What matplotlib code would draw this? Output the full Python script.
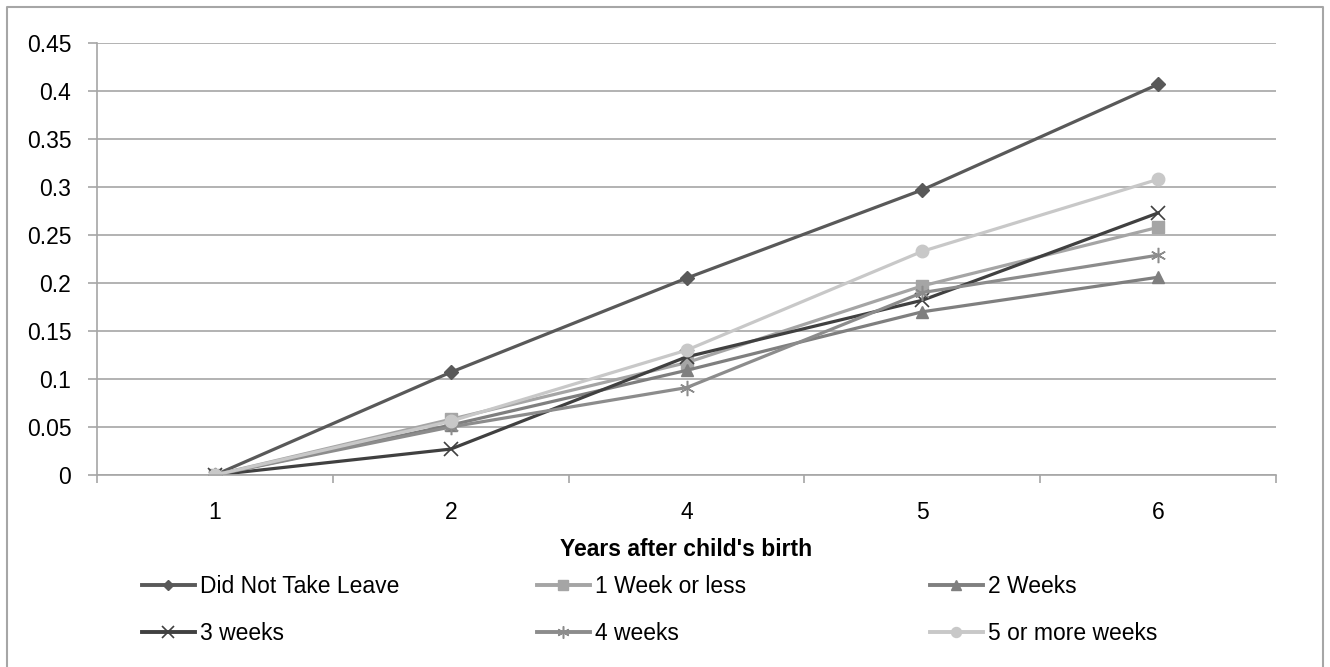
import matplotlib.pyplot as plt
from matplotlib.lines import Line2D

# data
years = ["1", "2", "4", "5", "6"]
did_not_take = [0, 0.107, 0.205, 0.297, 0.407]
week_or_less = [0, 0.058, 0.117, 0.197, 0.258]
two_weeks = [0, 0.052, 0.109, 0.170, 0.206]
three_weeks = [0, 0.027, 0.123, 0.182, 0.273]
four_weeks = [0, 0.050, 0.091, 0.190, 0.229]
five_plus = [0, 0.056, 0.130, 0.233, 0.308]
y_ticks = [0, 0.05, 0.1, 0.15, 0.2, 0.25, 0.3, 0.35, 0.4, 0.45]
y_labels = ["0", "0.05", "0.1", "0.15", "0.2", "0.25", "0.3", "0.35", "0.4", "0.45"]

plt.rcParams['font.family'] = ['Liberation Sans', 'DejaVu Sans']
FS = 16.5

W, H = 1330, 667
fig = plt.figure(figsize=(W / 100, H / 100), dpi=100)
ax = fig.add_axes([97 / W, 1 - 475 / H, (1276 - 97) / W, (475 - 43) / H])

xs = range(len(years))
series = [
    (did_not_take, "Did Not Take Leave", "#595959", "D", 7),
    (week_or_less, "1 Week or less", "#a5a5a5", "s", 9),
    (two_weeks, "2 Weeks", "#7f7f7f", "^", 9),
    (three_weeks, "3 weeks", "#404040", "x", 10),
    (four_weeks, "4 weeks", "#8c8c8c", "*", 11),
    (five_plus, "5 or more weeks", "#c8c8c8", "o", 9),
]

lines = []
for vals, name, col, mk, ms in series:
    if mk == "*":
        # asterisk-like marker
        ln, = ax.plot(xs, vals, color=col, lw=2.3, marker=(6, 2, 0), ms=ms,
                      mew=1.1, label=name)
    elif mk == "x":
        ln, = ax.plot(xs, vals, color=col, lw=2.3, marker="x", ms=ms,
                      mew=1.2, label=name)
    else:
        ln, = ax.plot(xs, vals, color=col, lw=2.3, marker=mk, ms=ms,
                      mec=col, mfc=col, label=name)
    lines.append(ln)

ax.set_xlim(-0.5, 4.5)
ax.set_ylim(0, 0.45)
ax.set_yticks(y_ticks)
ax.set_yticklabels(y_labels, fontsize=FS)
ax.yaxis.grid(True, color="#a6a6a6", lw=1.2)
ax.set_axisbelow(True)

ax.set_xticks([i - 0.5 for i in range(len(years) + 1)])
ax.set_xticklabels([])
ax.set_xticks(list(xs), minor=True)
ax.set_xticklabels(years, minor=True, fontsize=FS)
ax.tick_params(axis="x", which="major", length=6, color="#a6a6a6", width=1.2)
ax.tick_params(axis="x", which="minor", length=0, pad=19)
ax.tick_params(axis="y", length=6.5, color="#a6a6a6", width=1.2, pad=12)

for s in ["top", "right"]:
    ax.spines[s].set_visible(False)
for s in ["left", "bottom"]:
    ax.spines[s].set_color("#a6a6a6")
    ax.spines[s].set_linewidth(1.2)

ax.set_xlabel("Years after child's birth", fontsize=FS, fontweight="bold", labelpad=10)

# legend: three columns of two rows
col_x = [142, 537, 930]
for c in range(3):
    idx = [c, c + 3]
    handles = []
    for i in idx:
        h = Line2D([], [], color=lines[i].get_color(), lw=2.8,
                   marker=lines[i].get_marker(), ms=lines[i].get_markersize() * 0.8,
                   mec=lines[i].get_markeredgecolor(), mfc=lines[i].get_markerfacecolor(),
                   mew=lines[i].get_markeredgewidth())
        handles.append(h)
    fig.legend(handles, [series[i][1] for i in idx], loc="upper left",
               bbox_to_anchor=(col_x[c] / W, 1 - 575 / H), frameon=False,
               fontsize=FS, handlelength=2.3, handletextpad=0.25,
               borderpad=0, borderaxespad=0, labelspacing=1.05)

fig.add_artist(Line2D([7 / W, 7 / W, 1323 / W, 1323 / W], [0, 1 - 7 / H, 1 - 7 / H, 0],
                      color="#a6a6a6", lw=1.5, transform=fig.transFigure))

fig.savefig("out.png", dpi=100)
